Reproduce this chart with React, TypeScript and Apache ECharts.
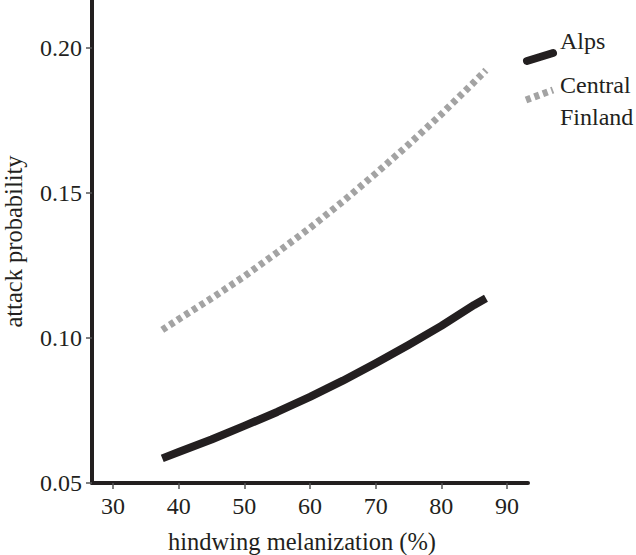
import React, { useEffect, useRef } from "react";
import * as echarts from "echarts";

const xValues = [37.5, 40, 45, 50, 55, 60, 65, 70, 75, 80, 85, 86.8];
const alps = [0.0585, 0.0607, 0.065, 0.0697, 0.0745, 0.0797, 0.0853, 0.0913, 0.0976, 0.1042, 0.1114, 0.1137];
const centralFinland = [0.1028, 0.1065, 0.1137, 0.1213, 0.1295, 0.138, 0.1471, 0.1567, 0.1667, 0.1772, 0.1883, 0.1924];
const xTicks = [30, 40, 50, 60, 70, 80, 90];
const yTicks = [0.05, 0.1, 0.15, 0.2];
const seriesNames = ["Alps", "Central\nFinland"];

const FONT = "'Liberation Serif', 'DejaVu Serif', serif";
const INK = "#231f20";

export default function App() {
  const ref = useRef<HTMLDivElement>(null);
  useEffect(() => {
    if (!ref.current) return;
    const chart = echarts.init(ref.current, null, { renderer: "svg" });
    const pairs = (ys: number[]) => xValues.map((x, i) => [x, ys[i]]);
    chart.setOption({
      animation: false,
      backgroundColor: "#ffffff",
      grid: { left: 92, right: 108, top: 0, bottom: 72, containLabel: false, outerBoundsMode: "none" },
      xAxis: {
        type: "value",
        min: 26.8,
        max: 93.2,
        name: "hindwing melanization (%)",
        nameLocation: "middle",
        nameGap: 46,
        nameTextStyle: { fontFamily: FONT, fontSize: 24.5, color: INK, padding: [0, 16, 0, 0] },
        axisLine: { show: true, lineStyle: { color: INK, width: 4 } },
        axisTick: { show: true, customValues: xTicks, length: 6, lineStyle: { color: "#555", width: 1.5 } },
        axisLabel: {
          customValues: xTicks,
          margin: 11,
          fontFamily: FONT,
          fontSize: 24,
          color: INK,
        },
        splitLine: { show: false },
      },
      yAxis: {
        type: "value",
        min: 0.05,
        max: 0.2166,
        name: "attack probability",
        nameLocation: "middle",
        nameGap: 66,
        nameRotate: 90,
        nameTextStyle: { fontFamily: FONT, fontSize: 24.5, color: INK },
        axisLine: { show: true, lineStyle: { color: INK, width: 4 } },
        axisTick: { show: true, customValues: yTicks, length: 6, lineStyle: { color: "#555", width: 1.5 } },
        axisLabel: {
          customValues: yTicks,
          margin: 10,
          fontFamily: FONT,
          fontSize: 24,
          color: INK,
          formatter: (v: number) => v.toFixed(2),
        },
        splitLine: { show: false },
      },
      series: [
        {
          name: seriesNames[0],
          type: "line",
          data: pairs(alps),
          smooth: false,
          showSymbol: false,
          lineStyle: { color: INK, width: 8, cap: "butt", join: "round" },
        },
        {
          name: seriesNames[1],
          type: "line",
          data: pairs(centralFinland),
          smooth: false,
          showSymbol: false,
          lineStyle: { color: "#a3a3a3", width: 7, type: [5, 4], cap: "butt" },
        },
      ],
      graphic: [
        {
          type: "line",
          shape: { x1: 527, y1: 61, x2: 553, y2: 53 },
          style: { stroke: INK, lineWidth: 8, lineCap: "round" },
        },
        {
          type: "text",
          left: 560,
          top: 29,
          style: { text: seriesNames[0], fontFamily: FONT, fontSize: 24, fill: INK },
        },
        {
          type: "text",
          left: 560,
          top: 69,
          style: { text: seriesNames[1], fontFamily: FONT, fontSize: 24, fill: INK, lineHeight: 32 },
        },
        {
          type: "line",
          shape: { x1: 526, y1: 100, x2: 553, y2: 90 },
          style: { stroke: "#a3a3a3", lineWidth: 7, lineDash: [5, 4] },
        },
      ],
    });
    return () => chart.dispose();
  }, []);
  return (
    <div
      ref={ref}
      style={{ position: "fixed", left: 0, top: 0, width: 636, height: 555, background: "#fff" }}
    />
  );
}
